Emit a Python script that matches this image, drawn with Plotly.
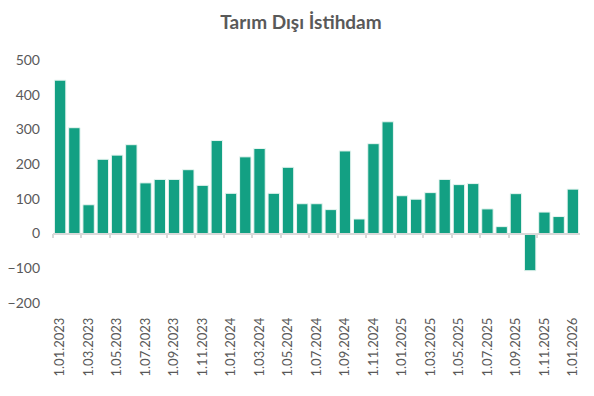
import plotly.graph_objects as go

months = []
for y in (2023, 2024, 2025):
    for m in range(1, 13):
        months.append(f"1.{m:02d}.{y}")
months.append("1.01.2026")

values = [442, 305, 83, 214, 226, 256, 146, 156, 156, 184, 139, 268,
          116, 221, 245, 116, 191, 86, 86, 69, 238, 42, 259, 322,
          109, 99, 118, 156, 141, 144, 71, 20, 115, -107, 62, 49, 128]

tick_labels = months[::2]

GREY = "#595959"
FONT = "Lato"

W, H = 586, 388

fig = go.Figure()
fig.add_trace(go.Bar(x=months, y=values, marker=dict(color="#13A083", line=dict(color="#e8f5f1", width=1)),
                     hoverinfo="x+y"))

fig.update_layout(
    width=W, height=H,
    margin=dict(l=45, r=14, t=52, b=93, autoexpand=False),
    paper_bgcolor="white", plot_bgcolor="white",
    showlegend=False, bargap=0.2,
    title=dict(text="<b>Tarım Dışı İstihdam</b>", x=0.5, xanchor="center", y=1 - 14/H, yanchor="middle",
               font=dict(family=FONT, size=19, color=GREY)),
    font=dict(family=FONT, color=GREY),
    xaxis=dict(type="category", tickvals=tick_labels, ticktext=tick_labels, tickangle=-90,
               showgrid=False, showline=False, zeroline=False, ticks="", automargin=False,
               tickfont=dict(family=FONT, size=13, color=GREY), ticklabelstandoff=11),
    yaxis=dict(range=[-200, 500], tickvals=[-200, -100, 0, 100, 200, 300, 400, 500],
               showgrid=False, zeroline=False, showline=False, automargin=False,
               tickfont=dict(family=FONT, size=14, color=GREY), ticklabelstandoff=12),
    xaxis2=dict(overlaying="x", anchor="free", position=2/7, range=[-0.5, len(months) - 0.5],
                showline=True, linecolor="#d9d9d9", linewidth=1.5, ticks="outside", ticklen=4,
                tickcolor="#d9d9d9", tickwidth=1.5, showticklabels=False, showgrid=False, zeroline=False,
                automargin=False,
                tickvals=[i - 0.5 for i in range(0, len(months) - 1, 2)]),
)
# invisible trace to activate xaxis2
fig.add_trace(go.Scatter(x=[0], y=[0], xaxis="x2", mode="markers", marker=dict(opacity=0), hoverinfo="skip"))

fig.write_html("out.html")
